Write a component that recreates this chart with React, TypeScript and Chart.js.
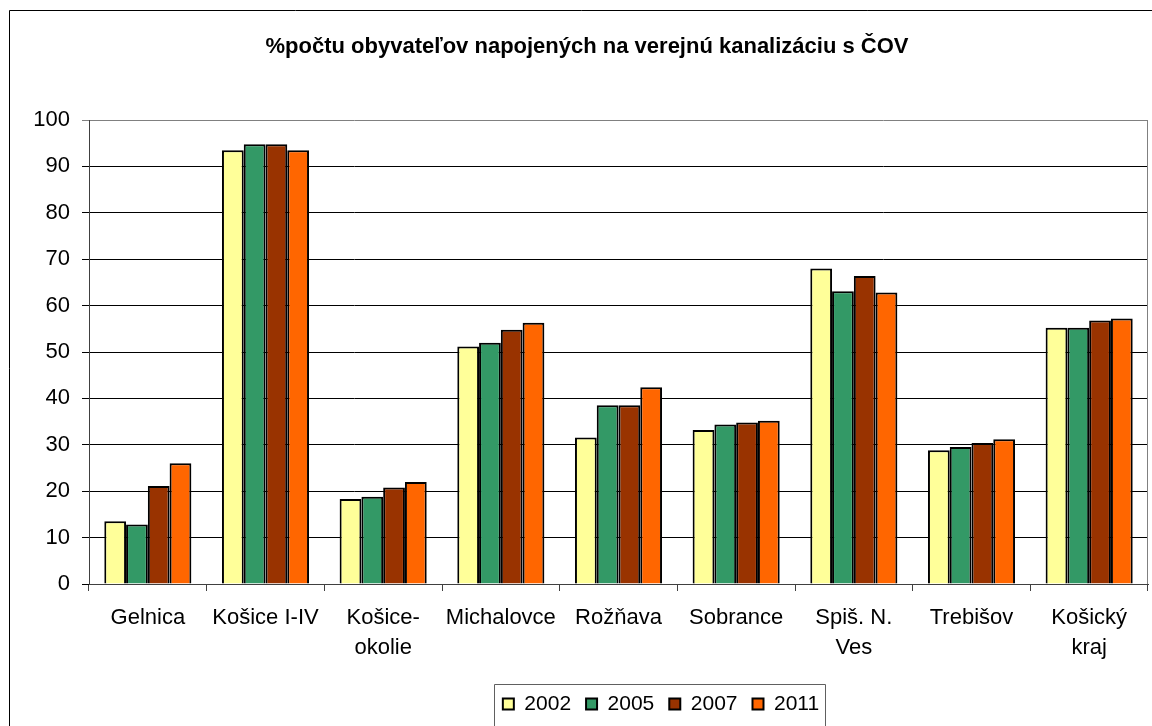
import React, { useEffect, useRef } from "react";
import { Chart, registerables } from "chart.js";

Chart.register(...registerables);

const categories: (string | string[])[] = [
  "Gelnica",
  "Košice I-IV",
  ["Košice-", "okolie"],
  "Michalovce",
  "Rožňava",
  "Sobrance",
  ["Spiš. N.", "Ves"],
  "Trebišov",
  ["Košický", "kraj"],
];

const years = ["2002", "2005", "2007", "2011"];
const values2002 = [13.5, 93.5, 18.3, 51.2, 31.6, 33.2, 68.0, 28.8, 55.2];
const values2005 = [12.8, 94.8, 18.8, 52.0, 38.5, 34.4, 63.1, 29.5, 55.2];
const values2007 = [21.1, 94.8, 20.8, 54.8, 38.5, 34.8, 66.4, 30.4, 56.8];
const values2011 = [26.0, 93.5, 22.0, 56.3, 42.4, 35.2, 62.8, 31.2, 57.2];
const colors = ["#FFFF99", "#339966", "#993300", "#FF6600"];

const titleText = "%počtu obyvateľov napojených na verejnú kanalizáciu s ČOV";
const FONT = "'Liberation Sans', Arial, sans-serif";

const framePlugin = {
  id: "frame",
  afterLayout(chart: any) {
    const lg = chart.legend;
    if (lg) {
      lg.left += 74;
      lg.right += 74;
    }
  },
  beforeDraw(chart: any) {
    const ctx = chart.ctx;
    ctx.save();
    ctx.fillStyle = "#ffffff";
    ctx.fillRect(0, 0, chart.width, chart.height);
    ctx.strokeStyle = "#000000";
    ctx.lineWidth = 1;
    ctx.beginPath();
    ctx.moveTo(9.5, chart.height + 5);
    ctx.lineTo(9.5, 10.5);
    ctx.lineTo(chart.width + 5, 10.5);
    ctx.stroke();
    ctx.restore();
  },
  afterDraw(chart: any) {
    const ctx = chart.ctx;
    const a = chart.chartArea;
    ctx.save();
    ctx.strokeStyle = "#808080";
    ctx.lineWidth = 1;
    ctx.beginPath();
    ctx.moveTo(Math.round(a.right) - 0.5, a.top);
    ctx.lineTo(Math.round(a.right) - 0.5, a.bottom);
    ctx.stroke();
    const lg = chart.legend;
    if (lg && lg.lineWidths) {
      const pad = lg.options.labels.padding;
      const lw = lg.lineWidths[0];
      const start = (lg.left + pad + lg.right - lw) / 2;
      const end = start + lw - pad;
      const x0 = Math.round(start - 9) + 0.5;
      const x1 = Math.round(end + 6) + 0.5;
      const y0 = Math.round(lg.top + 5) + 0.5;
      ctx.strokeStyle = "#606060";
      ctx.beginPath();
      ctx.moveTo(x0, chart.height + 5);
      ctx.lineTo(x0, y0);
      ctx.lineTo(x1, y0);
      ctx.lineTo(x1, chart.height + 5);
      ctx.stroke();
    }
    ctx.restore();
  },
};

export default function App() {
  const ref = useRef<HTMLCanvasElement | null>(null);

  useEffect(() => {
    if (!ref.current) return;
    const series = [values2002, values2005, values2007, values2011];
    const chart = new Chart(ref.current, {
      type: "bar",
      data: {
        labels: categories as any,
        datasets: series.map((vals, i) => ({
          label: years[i],
          data: vals,
          backgroundColor: colors[i],
          borderColor: "#000000",
          borderWidth: 2,
          categoryPercentage: 0.74,
          barPercentage: 1.0,
        })),
      },
      options: {
        responsive: false,
        animation: false,
        devicePixelRatio: 1,
        layout: { padding: { left: 26, right: 4, top: 0, bottom: 1.5 } },
        plugins: {
          title: {
            display: true,
            text: titleText,
            color: "#000000",
            font: { family: FONT, size: 22, weight: "bold", lineHeight: 1.2 },
            padding: { top: 47 - 13.2, bottom: 120 - (47 - 13.2) - 26.4 },
          },
          legend: {
            display: true,
            position: "bottom",
            labels: {
              color: "#000000",
              font: { family: FONT, size: 21 },
              boxWidth: 11,
              boxHeight: 11,
              padding: 15,
            },
          },
          tooltip: { enabled: false },
        },
        scales: {
          x: {
            grid: {
              display: true,
              offset: true,
              drawOnChartArea: false,
              drawTicks: true,
              tickLength: 7,
              color: "#404040",
            },
            border: { display: true, color: "#404040", width: 1 },
            ticks: {
              color: "#000000",
              font: { family: FONT, size: 22, lineHeight: 30 / 22 },
              padding: 12,
              maxRotation: 0,
              autoSkip: false,
            },
            afterFit(scale: any) {
              scale.height = 94.5;
            },
          },
          y: {
            min: 0,
            max: 100,
            ticks: {
              stepSize: 10,
              color: "#000000",
              font: { family: FONT, size: 22 },
              padding: 12,
            },
            grid: {
              display: true,
              drawTicks: true,
              tickLength: 7,
              color: (c: any) => (c.tick && c.tick.value === 100 ? "#808080" : "#000000"),
              lineWidth: 1,
            },
            border: { display: true, color: "#404040", width: 1 },
            afterFit(scale: any) {
              scale.width = 63;
            },
          },
        },
      },
      plugins: [framePlugin],
    });
    return () => chart.destroy();
  }, []);

  return (
    <div
      style={{
        position: "fixed",
        left: 0,
        top: 0,
        width: 1152,
        height: 726,
        background: "#ffffff",
        overflow: "hidden",
      }}
    >
      <canvas ref={ref} width={1152} height={726} style={{ display: "block" }} />
    </div>
  );
}
